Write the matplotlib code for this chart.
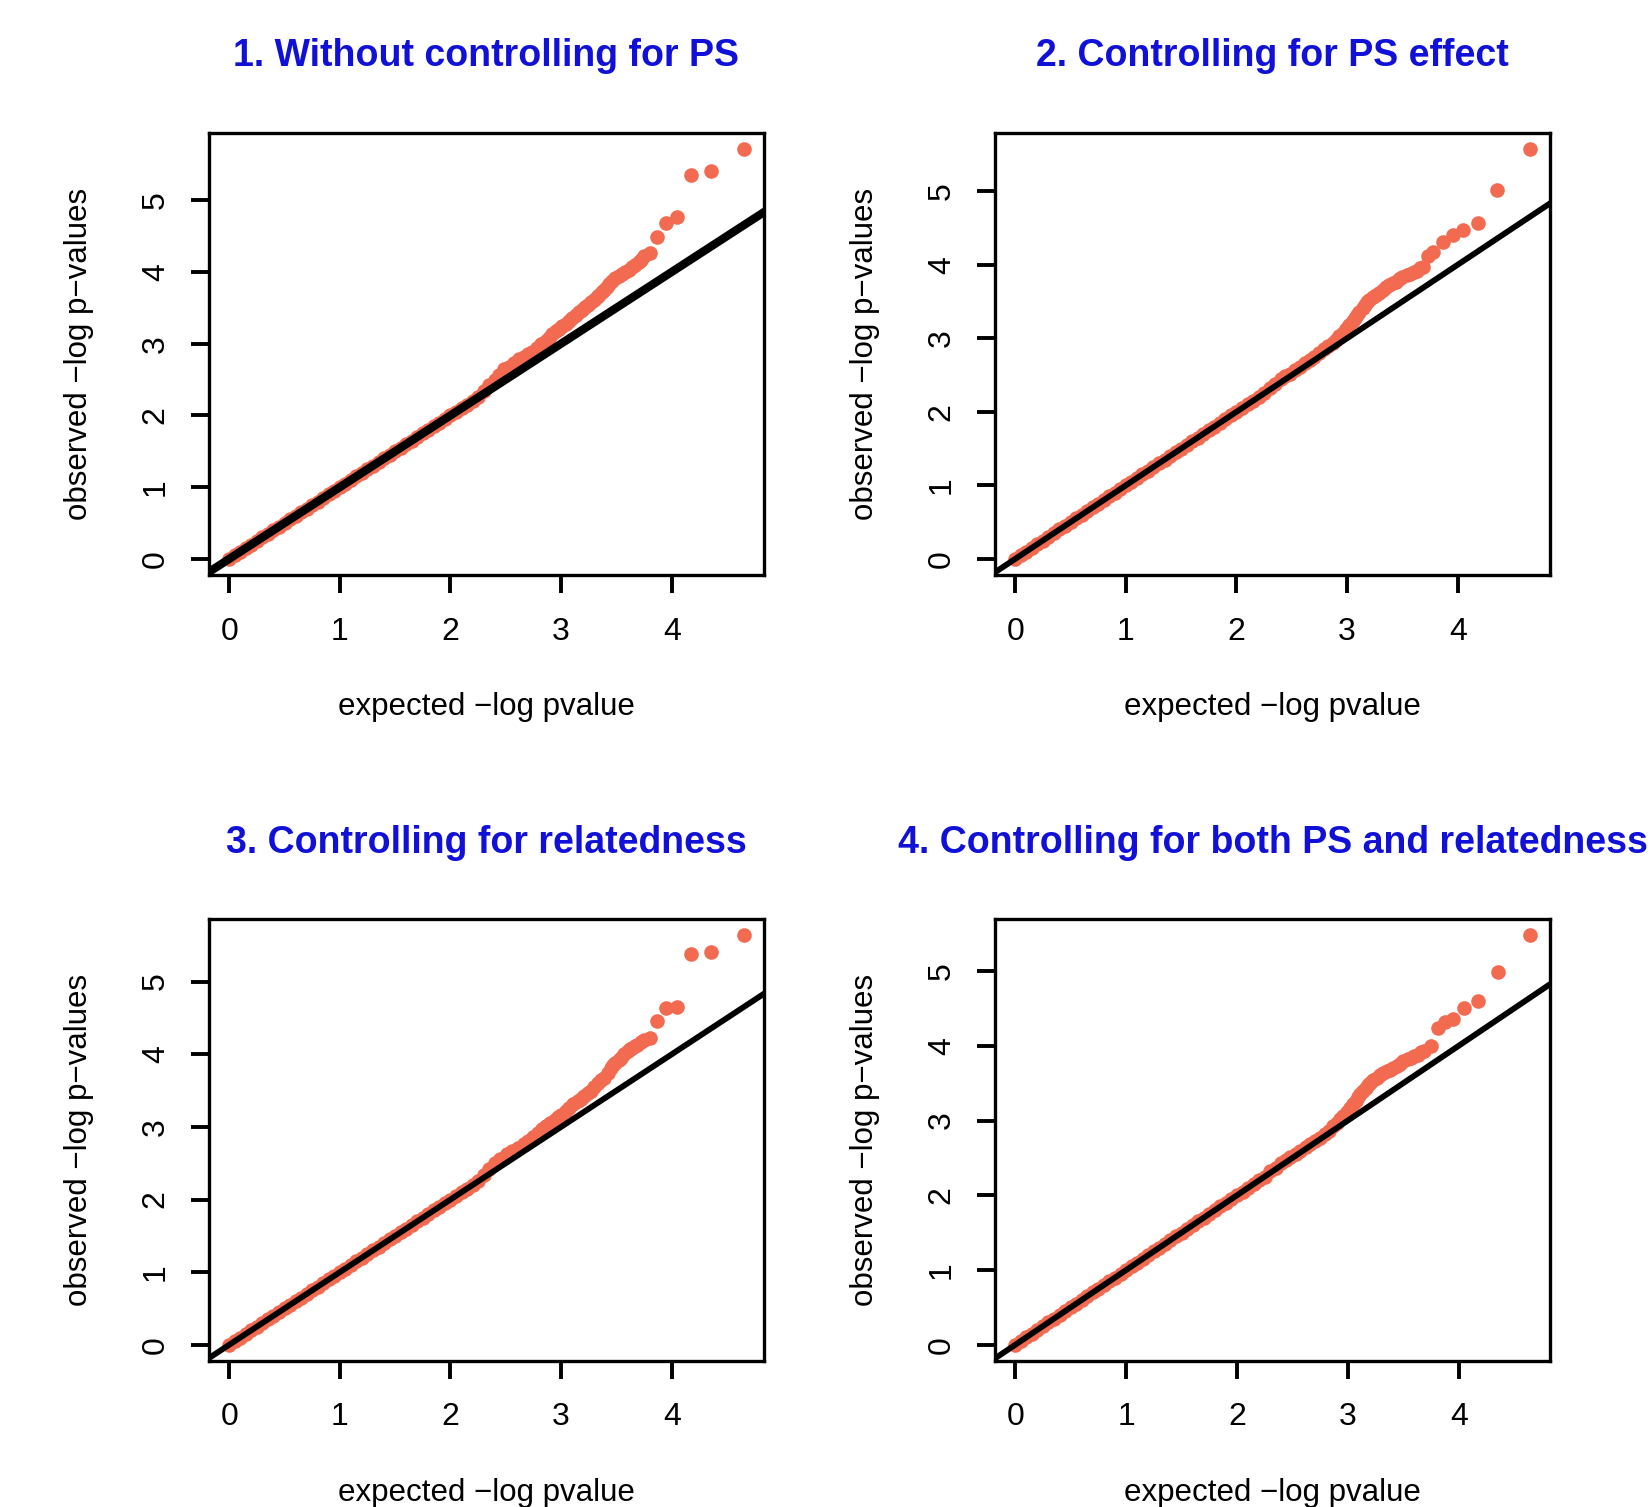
import matplotlib.pyplot as plt

# === DATA ===
titles = ["1. Without controlling for PS",
          "2. Controlling for PS effect",
          "3. Controlling for relatedness",
          "4. Controlling for both PS and relatedness"]

# bulk of the points sits on the diagonal (observed == expected)
bulk = [0.00, 0.05, 0.10, 0.15, 0.20, 0.25, 0.30, 0.35, 0.40, 0.45,
        0.50, 0.55, 0.60, 0.65, 0.70, 0.75, 0.80, 0.85, 0.90, 0.95,
        1.00, 1.05, 1.10, 1.15, 1.20, 1.25, 1.30, 1.35, 1.40, 1.45,
        1.50, 1.55, 1.60, 1.65, 1.70, 1.75, 1.80, 1.85, 1.90, 1.95,
        2.00, 2.05, 2.10, 2.15, 2.20, 2.25]

# upper tails (expected, observed)
exp1 = [2.30, 2.35, 2.40, 2.44, 2.48, 2.53, 2.57, 2.62, 2.66, 2.70, 2.74, 2.78,
        2.82, 2.86, 2.89, 2.92, 2.95, 2.98, 3.01, 3.04, 3.07, 3.10, 3.13, 3.16,
        3.19, 3.22, 3.24, 3.27, 3.30, 3.32, 3.34, 3.37, 3.39, 3.41, 3.43, 3.46,
        3.49, 3.52, 3.55, 3.58, 3.61, 3.64, 3.67, 3.70, 3.72, 3.75,
        3.80, 3.87, 3.95, 4.05, 4.17, 4.35, 4.65]
obs1 = [2.34, 2.42, 2.50, 2.57, 2.64, 2.68, 2.73, 2.78, 2.82, 2.85, 2.89, 2.94,
        2.99, 3.04, 3.08, 3.13, 3.17, 3.20, 3.24, 3.27, 3.31, 3.36, 3.40, 3.44,
        3.47, 3.51, 3.54, 3.58, 3.61, 3.65, 3.68, 3.72, 3.75, 3.79, 3.83, 3.87,
        3.91, 3.94, 3.97, 4.00, 4.03, 4.07, 4.10, 4.14, 4.17, 4.22,
        4.27, 4.48, 4.68, 4.76, 5.35, 5.41, 5.71]

exp2 = [2.30, 2.35, 2.40, 2.44, 2.48, 2.53, 2.57, 2.62, 2.66, 2.70, 2.75, 2.79,
        2.83, 2.87, 2.90, 2.93, 2.96, 2.99, 3.02, 3.05, 3.07, 3.09, 3.11, 3.14,
        3.16, 3.18, 3.20, 3.23, 3.26, 3.29, 3.32, 3.35, 3.38, 3.41, 3.44, 3.47,
        3.50, 3.54, 3.57, 3.60, 3.63, 3.66, 3.69, 3.73, 3.78,
        3.87, 3.96, 4.05, 4.18, 4.35, 4.65]
obs2 = [2.33, 2.38, 2.44, 2.48, 2.52, 2.57, 2.61, 2.66, 2.70, 2.75, 2.80, 2.85,
        2.89, 2.94, 2.98, 3.03, 3.07, 3.13, 3.18, 3.23, 3.27, 3.32, 3.36, 3.41,
        3.45, 3.49, 3.52, 3.56, 3.59, 3.62, 3.65, 3.69, 3.72, 3.75, 3.77, 3.80,
        3.83, 3.86, 3.88, 3.90, 3.92, 3.95, 3.97, 4.12, 4.17,
        4.31, 4.41, 4.47, 4.57, 5.01, 5.57]

exp3 = [2.30, 2.35, 2.40, 2.45, 2.51, 2.56, 2.61, 2.66, 2.70, 2.75, 2.79, 2.83,
        2.86, 2.90, 2.94, 2.97, 3.00, 3.04, 3.07, 3.11, 3.15, 3.18, 3.21, 3.24,
        3.27, 3.30, 3.33, 3.36, 3.39, 3.42, 3.45, 3.47, 3.49, 3.52, 3.54, 3.57,
        3.60, 3.62, 3.64, 3.67, 3.69, 3.72, 3.75, 3.80,
        3.87, 3.95, 4.05, 4.17, 4.35, 4.65]
obs3 = [2.34, 2.42, 2.50, 2.56, 2.62, 2.67, 2.71, 2.76, 2.80, 2.86, 2.92, 2.97,
        3.01, 3.06, 3.10, 3.14, 3.17, 3.22, 3.26, 3.31, 3.35, 3.39, 3.42, 3.46,
        3.49, 3.55, 3.61, 3.64, 3.67, 3.74, 3.81, 3.85, 3.88, 3.92, 3.95, 4.00,
        4.04, 4.07, 4.09, 4.11, 4.13, 4.17, 4.20, 4.22,
        4.46, 4.64, 4.65, 5.38, 5.41, 5.64]

exp4 = [2.30, 2.35, 2.40, 2.44, 2.48, 2.53, 2.57, 2.62, 2.66, 2.70, 2.75, 2.79,
        2.83, 2.87, 2.90, 2.93, 2.96, 2.99, 3.02, 3.05, 3.07, 3.09, 3.11, 3.14,
        3.16, 3.18, 3.20, 3.23, 3.26, 3.29, 3.32, 3.35, 3.38, 3.41, 3.44, 3.47,
        3.50, 3.54, 3.57, 3.60, 3.63, 3.66, 3.69, 3.75, 3.81,
        3.88, 3.95, 4.05, 4.17, 4.35, 4.64]
obs4 = [2.32, 2.37, 2.43, 2.47, 2.51, 2.55, 2.59, 2.64, 2.68, 2.72, 2.77, 2.82,
        2.86, 2.92, 2.97, 3.02, 3.06, 3.12, 3.17, 3.22, 3.26, 3.31, 3.35, 3.40,
        3.44, 3.47, 3.50, 3.54, 3.57, 3.61, 3.64, 3.66, 3.68, 3.70, 3.73, 3.76,
        3.79, 3.82, 3.84, 3.86, 3.88, 3.91, 3.93, 3.99, 4.24,
        4.32, 4.36, 4.51, 4.60, 4.99, 5.48]

expected = [exp1, exp2, exp3, exp4]
observed = [obs1, obs2, obs3, obs4]
xticks = [0, 1, 2, 3, 4]
yticks = [0, 1, 2, 3, 4, 5]
line_widths = [6.0, 4.2, 4.2, 4.2]

# === PLOTTING ===
plt.rcParams['font.family'] = ['Liberation Sans', 'DejaVu Sans']

W, H = 1652, 1507
fig = plt.figure(figsize=(W / 100, H / 100), dpi=100)

# axes boxes in pixels: left, top (size shared)
lefts = [208.6, 994.6, 208.6, 994.6]
tops = [132.8, 132.8, 918.7, 918.7]
box_w, box_h = 555.7, 442.5
title_y = [56, 56, 843, 843]
dot_color = '#F26A4F'

for k in range(4):
    ax = fig.add_axes([lefts[k] / W, 1 - (tops[k] + box_h) / H, box_w / W, box_h / H])
    xs = bulk + expected[k]
    ys = bulk + observed[k]
    ax.plot(xs, ys, 'o', color=dot_color, ms=10.5, mew=0, zorder=2)
    ax.axline((0, 0), slope=1, color='black', lw=line_widths[k], zorder=3)

    # R style limits: 4% padding on each side
    xmax, ymax = max(xs), max(ys)
    ax.set_xlim(-0.04 * xmax, 1.04 * xmax)
    ax.set_ylim(-0.04 * ymax, 1.04 * ymax)

    ax.set_xticks(xticks)
    ax.set_yticks(yticks)
    ax.tick_params(length=13, width=2.8, labelsize=23, pad=27.5, axis='x')
    ax.tick_params(length=13, width=2.8, labelsize=23, pad=25, axis='y',
                   labelrotation=90)
    plt.setp(ax.get_xticklabels(), va='center')
    plt.setp(ax.get_yticklabels(), va='center', ha='center')
    for sp in ax.spines.values():
        sp.set_linewidth(2.4)

    ax.set_xlabel('expected \u2212log pvalue', fontsize=22.5)
    ax.set_ylabel('observed \u2212log p\u2212values', fontsize=22.5)
    ax.xaxis.set_label_coords(0.5, -132 / box_h)
    ax.yaxis.set_label_coords(-130 / box_w, 0.5)
    ax.xaxis.label.set_va('center')
    ax.yaxis.label.set_va('center')

    fig.text((lefts[k] + box_w / 2) / W, 1 - title_y[k] / H, titles[k],
             ha='center', va='center', fontsize=27, fontweight='bold',
             color='#1010D8')

fig.savefig('out.png', dpi=100)
